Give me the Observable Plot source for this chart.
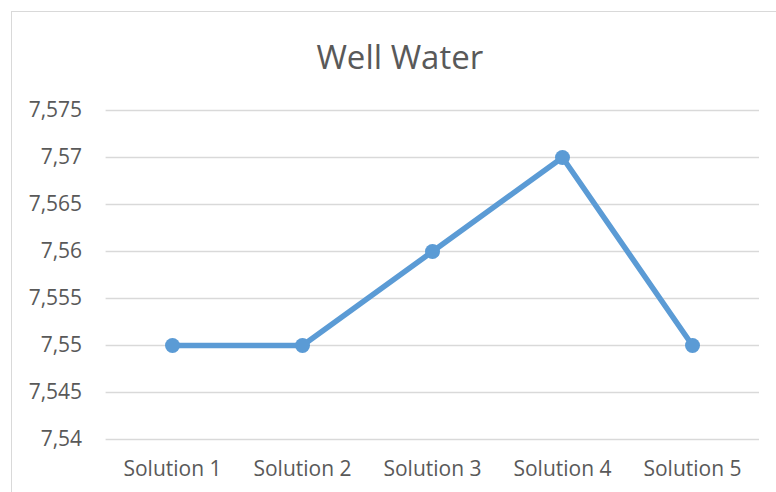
<!DOCTYPE html>
<html>
<head>
<meta charset="utf-8">
<script src="https://cdn.jsdelivr.net/npm/d3@7"></script>
<script src="https://cdn.jsdelivr.net/npm/@observablehq/plot@0.6"></script>
<style>
  html, body { margin: 0; padding: 0; background: #fff; }
  #wrap { position: relative; width: 776px; height: 492px; overflow: hidden; }
  #frame { position: absolute; left: 11px; top: 11px; width: 800px; height: 520px; border: 1px solid #d9d9d9; box-sizing: border-box; }
  #chart { position: absolute; left: 0; top: 0; }
</style>
</head>
<body>
<div id="wrap"><div id="frame"></div><div id="chart"></div></div>
<script>
const title = "Well Water";
const categories = ["Solution 1", "Solution 2", "Solution 3", "Solution 4", "Solution 5"];
const values = [7.55, 7.55, 7.56, 7.57, 7.55];
const yTicks = [7.54, 7.545, 7.55, 7.555, 7.56, 7.565, 7.57, 7.575];

const data = categories.map((c, i) => ({ category: c, value: values[i] }));
const fmt = v => String(+v.toFixed(3)).replace(".", ",");
const color = "#5B9BD5";

const chart = Plot.plot({
  width: 776,
  height: 492,
  marginTop: 110,
  marginBottom: 53,
  marginLeft: 105.6,
  marginRight: 17,
  style: { fontFamily: "'Open Sans', sans-serif", color: "#595959", background: "transparent", overflow: "visible" },
  x: { type: "point", domain: categories, padding: 0.5, label: null },
  y: { domain: [7.54, 7.575], label: null },
  marks: [
    Plot.gridY(yTicks, { stroke: "#d9d9d9", strokeOpacity: 1, strokeWidth: 1.3 }),
    Plot.axisY(yTicks, { tickSize: 0, tickPadding: 24, tickFormat: fmt, fontSize: 21, fill: "#595959" }),
    Plot.axisX({ tickSize: 0, tickPadding: 22, fontSize: 21, fill: "#595959" }),
    Plot.line(data, { x: "category", y: "value", stroke: color, strokeWidth: 5.5, strokeLinejoin: "round" }),
    Plot.dot(data, { x: "category", y: "value", fill: color, r: 7.5 }),
    Plot.text([title], { frameAnchor: "top", dx: -33, dy: -65, fontSize: 33, fill: "#595959", text: d => d })
  ]
});
document.getElementById("chart").appendChild(chart);
</script>
</body>
</html>
